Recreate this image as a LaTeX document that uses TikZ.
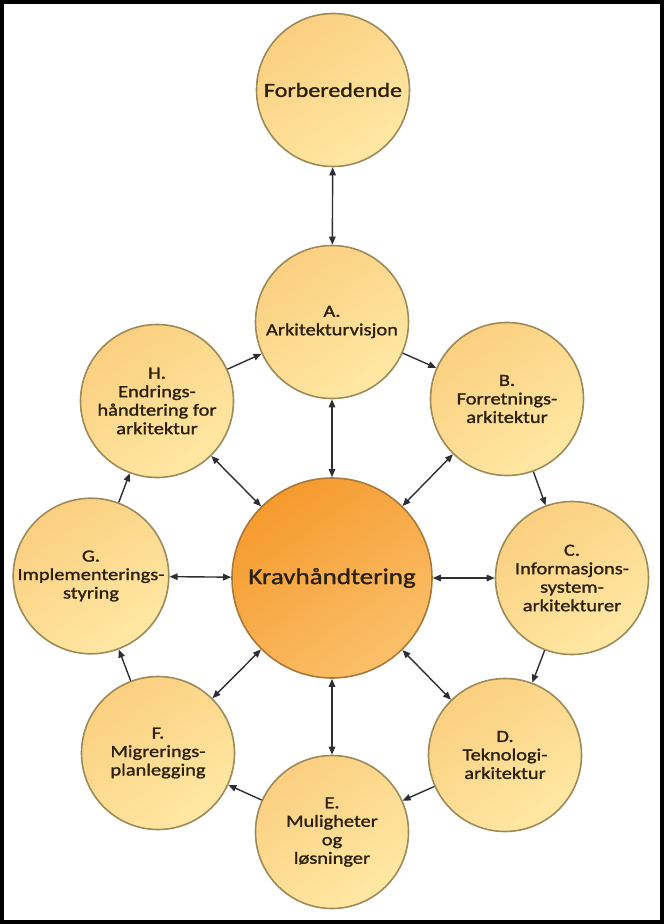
\documentclass[tikz,border=0pt]{standalone}
\usepackage{fontspec}
\usetikzlibrary{arrows.meta,shadings}
\newfontfamily\diagfont{Carlito}[FakeStretch=1.2,FakeBold=1.3]
\definecolor{txt}{HTML}{2A200C}
\definecolor{ringA}{HTML}{FBCF80}
\definecolor{ringB}{HTML}{FFE8A4}
\definecolor{ringedge}{HTML}{9C8A58}
\definecolor{hubA}{HTML}{F59A2E}
\definecolor{hubB}{HTML}{FBC06A}
\definecolor{hubedge}{HTML}{A9783A}
\definecolor{arr}{HTML}{2F2F33}
\tikzset{
  phase/.style={circle,draw=ringedge,line width=1.6pt,minimum size=153pt,inner sep=0pt,
    top color=ringA,bottom color=ringB,shading angle=35,
    text=txt,align=center,font=\diagfont\fontsize{17}{18.5}\selectfont},
  hub/.style={circle,draw=hubedge,line width=1.6pt,minimum size=200pt,inner sep=0pt,
    top color=hubA,bottom color=hubB,shading angle=35,
    text=txt,align=center,font=\diagfont\fontsize{22.5}{24}\selectfont},
  prep/.style={phase,font=\diagfont\fontsize{20}{22}\selectfont},
  conn/.style={draw=arr,line width=1.4pt,-{Triangle[length=8pt,width=6.5pt]}},
  biconn/.style={draw=arr,line width=1.4pt,{Triangle[length=8pt,width=6.5pt]}-{Triangle[length=8pt,width=6.5pt]}}
}
\begin{document}
\begin{tikzpicture}[x=1pt,y=-1pt]
\useasboundingbox (0,0) rectangle (664,924);
\fill[black] (0,0) rectangle (664,924);
\fill[white] (4,4) rectangle (660,920);

\node[prep]  (P) at (333,90)  {Forberedende};
\node[phase] (A) at (332,322) {A.\\Arkitekturvisjon};
\node[phase] (B) at (507,399) {B.\\Forretnings-\\arkitektur};
\node[phase] (C) at (572,578) {C.\\Informasjons-\\system-\\arkitekturer};
\node[phase] (D) at (505,755) {D.\\Teknologi-\\arkitektur};
\node[phase] (E) at (332,832) {E.\\Muligheter\\og\\løsninger};
\node[phase] (F) at (158,753) {F.\\Migrerings-\\planlegging};
\node[phase] (G) at (91,576)  {G.\\Implementerings-\\styring};
\node[phase] (H) at (157,401) {H.\\Endrings-\\håndtering for\\arkitektur};
\node[hub]   (K) at (332,578) {Kravhåndtering};

\draw[biconn] (P) -- (A);
\draw[conn] (A) -- (B);
\draw[conn] (B) -- (C);
\draw[conn] (C) -- (D);
\draw[conn] (D) -- (E);
\draw[conn] (E) -- (F);
\draw[conn] (F) -- (G);
\draw[conn] (G) -- (H);
\draw[conn] (H) -- (A);
\foreach \n in {A,B,C,D,E,F,G,H}
  \draw[biconn] (K) -- (\n);
\end{tikzpicture}
\end{document}
